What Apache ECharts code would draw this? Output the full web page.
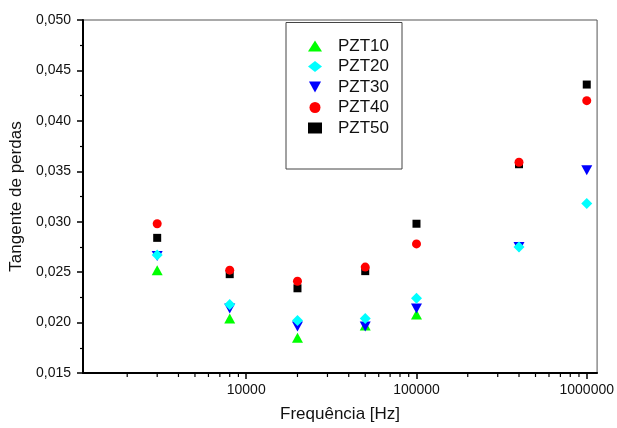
<!DOCTYPE html>
<html>
<head>
<meta charset="utf-8">
<script src="https://cdn.jsdelivr.net/npm/echarts@6/dist/echarts.min.js"></script>
<style>html,body{margin:0;padding:0;background:#fff}#c{width:617px;height:428px}</style>
</head>
<body>
<div id="c"></div>
<script>
var freqs = [3000, 8000, 20000, 50000, 100000, 400000, 1000000];
var pzt10 = [0.0252, 0.0204, 0.0185, 0.0197, 0.0208, null, null];
var pzt20 = [0.0267, 0.0218, 0.0202, 0.0204, 0.0224, 0.0275, 0.0318];
var pzt30 = [0.0266, 0.0214, 0.0196, 0.0196, 0.0214, 0.0275, 0.0351];
var pzt40 = [0.0298, 0.0252, 0.0241, 0.0255, 0.0278, 0.0359, 0.0420];
var pzt50 = [0.0284, 0.0248, 0.0234, 0.0251, 0.0298, 0.0357, 0.0436];
var xMajorTicks = [10000, 100000, 1000000];
var xMinorTicks = [2000,3000,4000,5000,6000,7000,8000,9000,20000,30000,40000,50000,60000,70000,80000,90000,200000,300000,400000,500000,600000,700000,800000,900000];
var seriesNames = ['PZT10', 'PZT20', 'PZT30', 'PZT40', 'PZT50'];

function pairs(vals) {
  var out = [];
  for (var i = 0; i < freqs.length; i++) {
    if (vals[i] !== null) out.push([freqs[i], vals[i]]);
  }
  return out;
}
var FONT = '"Liberation Sans", Arial, sans-serif';
var chart = echarts.init(document.getElementById('c'), null, {renderer: 'canvas'});
var rectStyle = {fill: null, stroke: '#444', lineWidth: 1};
var legendData = seriesNames.map(function (n) {
  return n === 'PZT30' ? {name: n, icon: 'path://M0,0L11,0L5.5,10Z'} : {name: n};
});
chart.setOption({
  animation: false,
  backgroundColor: '#fff',
  grid: {left: 82.5, right: 19.5, top: 20, bottom: 53, show: true, borderColor: '#555', borderWidth: 1},
  xAxis: {
    type: 'log', logBase: 10, min: 1100, max: 1150000,
    name: 'Frequência [Hz]', nameLocation: 'middle', nameGap: 33,
    nameTextStyle: {fontFamily: FONT, fontSize: 17, color: '#111'},
    axisLine: {show: true, lineStyle: {color: '#000', width: 2}},
    axisTick: {show: true, length: 6, lineStyle: {color: '#000', width: 1.5}, customValues: xMajorTicks},
    axisLabel: {fontFamily: FONT, fontSize: 14, color: '#111', margin: 10, customValues: xMajorTicks,
      formatter: function (v) { return String(Math.round(v)); }},
    splitLine: {show: false}, minorTick: {show: false}
  },
  yAxis: {
    type: 'value', min: 0.015, max: 0.050, interval: 0.005,
    name: 'Tangente de perdas', nameLocation: 'middle', nameGap: 58,
    nameTextStyle: {fontFamily: FONT, fontSize: 17, color: '#111'},
    axisLine: {show: true, lineStyle: {color: '#000', width: 2}},
    axisTick: {show: true, length: 6, lineStyle: {color: '#000', width: 1.5}},
    minorTick: {show: true, splitNumber: 2, length: 3, lineStyle: {color: '#000', width: 1.2}},
    axisLabel: {fontFamily: FONT, fontSize: 14, color: '#111', margin: 12,
      formatter: function (v) { return v.toFixed(3).replace('.', ','); }},
    splitLine: {show: false}
  },
  legend: {
    data: legendData,
    orient: 'vertical', left: 303, top: 32.5,
    itemWidth: 14, itemHeight: 11, itemGap: 3.5,
    textStyle: {fontFamily: FONT, fontSize: 17, lineHeight: 17, color: '#111', padding: [0, 0, 0, 11]},
    selectedMode: false
  },
  series: [
    {name: 'PZT10', type: 'scatter', data: pairs(pzt10), symbol: 'triangle', symbolSize: [11, 10],
      itemStyle: {color: '#00ff00', opacity: 1}, z: 2},
    {name: 'PZT30', type: 'scatter', data: pairs(pzt30), symbol: 'triangle', symbolRotate: 180, symbolSize: [11, 10],
      itemStyle: {color: '#0000ff', opacity: 1}, z: 2},
    {name: 'PZT20', type: 'scatter', data: pairs(pzt20), symbol: 'diamond', symbolSize: [11, 11],
      itemStyle: {color: '#00ffff', opacity: 1}, z: 2},
    {name: 'PZT50', type: 'scatter', data: pairs(pzt50), symbol: 'rect', symbolSize: 8,
      itemStyle: {color: '#000000', opacity: 1}, z: 2},
    {name: 'PZT40', type: 'scatter', data: pairs(pzt40), symbol: 'circle', symbolSize: 9,
      itemStyle: {color: '#ff0000', opacity: 1}, z: 2}
  ]
});
// legend frame and minor ticks of the log axis (2..9 of each decade), positioned through the axis scale
var axisY = chart.convertToPixel({yAxisIndex: 0}, 0.015);
var extraEls = [{type: 'rect', shape: {x: 286, y: 22.5, width: 116, height: 146.5}, style: rectStyle, z: 10}];
xMinorTicks.forEach(function (v) {
  var px = chart.convertToPixel({xAxisIndex: 0}, v);
  extraEls.push({type: 'line', shape: {x1: px, y1: axisY, x2: px, y2: axisY + 4},
    style: {stroke: '#000', lineWidth: 1.2}, z: 5});
});
chart.setOption({graphic: extraEls});
</script>
</body>
</html>
